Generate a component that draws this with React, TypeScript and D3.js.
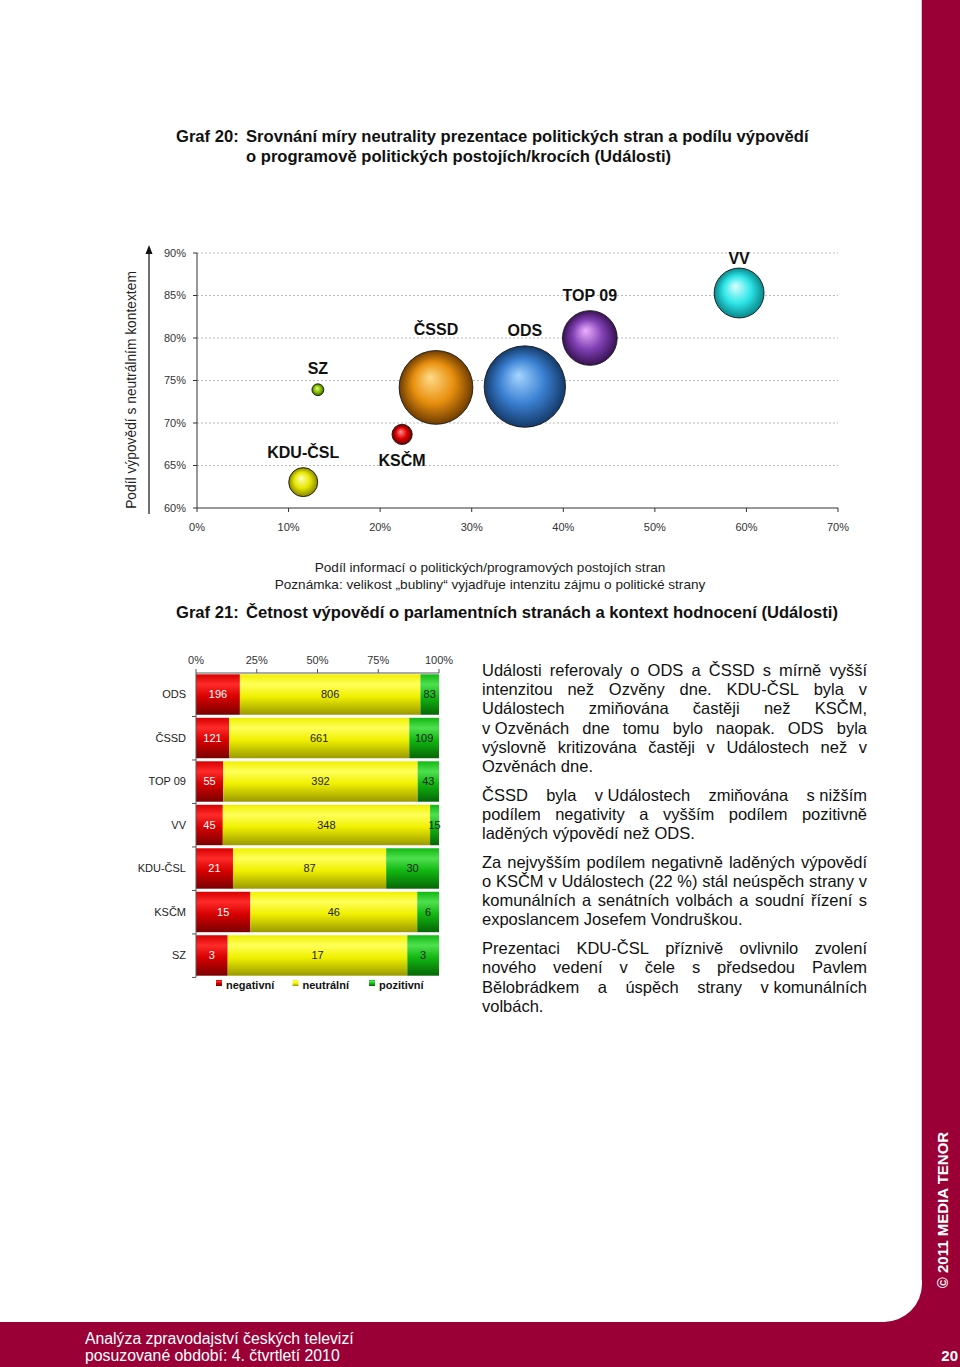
import React from 'react';
import * as d3 from 'd3';

const FONT = '"Liberation Sans", Arial, Helvetica, sans-serif';
const NARROW = '"Liberation Sans Narrow", "Arial Narrow", "Liberation Sans", sans-serif';

// Graf 21 - cetnost vypovedi (pocty)
const parties = ['ODS', 'ČSSD', 'TOP 09', 'VV', 'KDU-ČSL', 'KSČM', 'SZ'];
const negativni = [196, 121, 55, 45, 21, 15, 3];
const neutralni = [806, 661, 392, 348, 87, 46, 17];
const pozitivni = [83, 109, 43, 15, 30, 6, 3];
const seriesKeys = ['negativni', 'neutralni', 'pozitivni'];
const seriesLabels = ['negativní', 'neutrální', 'pozitivní'];

// Graf 20 - podil informaci o politickych/programovych postojich (osa x), poradi jako parties
const podilPostoju = [0.358, 0.261, 0.429, 0.592, 0.116, 0.224, 0.132];

const bubbleXTicks = [0, 0.1, 0.2, 0.3, 0.4, 0.5, 0.6, 0.7];
const bubbleYTicks = [0.6, 0.65, 0.7, 0.75, 0.8, 0.85, 0.9];
const barTicks = [0, 0.25, 0.5, 0.75, 1];

// colours: [highlight, base, shade]
const bubbleFill: Record<string, string[]> = {
  ODS: ['#a6d6ff', '#3a80d2', '#143a68'],
  'ČSSD': ['#ffdc8a', '#e8900e', '#6e3c00'],
  'TOP 09': ['#eeb0ff', '#8040b4', '#371252'],
  VV: ['#dcffff', '#2ee6e8', '#08878b'],
  'KDU-ČSL': ['#ffffb8', '#e6e600', '#858500'],
  'KSČM': ['#ff9090', '#e00000', '#650000'],
  SZ: ['#e4ff90', '#8cc400', '#3c6600'],
};
const segFill = [
  ['#ff2a2a', '#d80000', '#7a0000'],
  ['#ffff5a', '#f0f000', '#9a9a00'],
  ['#4fe04f', '#12b812', '#066606'],
];
// label offset above (or below) bubble
const labelGap: Record<string, number> = { 'ČSSD': 16, VV: 4 };
const labelBelow = ['KSČM'];

const paragraphs = [
  [
    'Události referovaly o ODS a ČSSD s mírně vyšší',
    'intenzitou než Ozvěny dne. KDU-ČSL byla v',
    'Událostech zmiňována častěji než KSČM,',
    'v\u00a0Ozvěnách dne tomu bylo naopak. ODS byla',
    'výslovně kritizována častěji v Událostech než v',
    'Ozvěnách dne.',
  ],
  [
    'ČSSD byla v\u00a0Událostech zmiňována s\u00a0nižším',
    'podílem negativity a vyšším podílem pozitivně',
    'laděných výpovědí než ODS.',
  ],
  [
    'Za nejvyšším podílem negativně laděných výpovědí',
    'o KSČM v Událostech (22 %) stál neúspěch strany v',
    'komunálních a senátních volbách a soudní řízení s',
    'exposlancem Josefem Vondruškou.',
  ],
  [
    'Prezentaci KDU-ČSL příznivě ovlivnilo zvolení',
    'nového vedení v čele s předsedou Pavlem',
    'Bělobrádkem a úspěch strany v\u00a0komunálních',
    'volbách.',
  ],
];

const TEXT_SIZE = 16.5;

let ctx: CanvasRenderingContext2D | null = null;
function measure(s: string, font: string) {
  if (!ctx) ctx = document.createElement('canvas').getContext('2d');
  ctx!.font = font;
  return ctx!.measureText(s).width;
}

function justify(line: string, x0: number, width: number, last: boolean) {
  const font = `${TEXT_SIZE}px "Liberation Sans"`;
  const words = line.split(' ');
  const ws = words.map((w) => measure(w, font));
  const sum = d3.sum(ws);
  const gap = last || words.length < 2 ? measure(' ', font) : (width - sum) / (words.length - 1);
  let cx = x0;
  return words.map((w, i) => {
    const out = { w, x: cx };
    cx += ws[i] + gap;
    return out;
  });
}

export default function App() {
  const totals = parties.map((_, i) => negativni[i] + neutralni[i] + pozitivni[i]);

  // ---- Graf 20 (bubliny)
  const x = d3.scaleLinear().domain([0, 0.7]).range([197, 838]);
  const y = d3.scaleLinear().domain([0.6, 0.9]).range([508, 253]);
  const r = d3.scaleSqrt().domain([0, d3.max(totals) as number]).range([0, 40.7]);
  const pct = d3.format('.0%');

  const bubbles = parties
    .map((p, i) => ({
      party: p,
      cx: x(podilPostoju[i]),
      cy: y(neutralni[i] / totals[i]),
      r: r(totals[i]),
    }))
    .sort((a, b) => b.r - a.r);

  // ---- Graf 21 (pruhy)
  const rows = parties.map((p, i) => ({
    party: p,
    negativni: negativni[i] / totals[i],
    neutralni: neutralni[i] / totals[i],
    pozitivni: pozitivni[i] / totals[i],
    counts: [negativni[i], neutralni[i], pozitivni[i]],
  }));
  const stacked = d3.stack<any>().keys(seriesKeys)(rows);
  const xb = d3.scaleLinear().domain([0, 1]).range([196, 439]);
  const yb = d3.scaleBand().domain(parties).range([673, 977]).paddingInner(0.07).paddingOuter(0.03);
  const legendX = d3.scalePoint().domain(seriesLabels).range([216, 369]);

  // ---- text
  const lh = 19.2;
  const paraGap = 9.5;
  let base = 676;
  const textLines: { words: { w: string; x: number }[]; y: number }[] = [];
  paragraphs.forEach((para) => {
    para.forEach((line, li) => {
      textLines.push({ words: justify(line, 482, 385, li === para.length - 1), y: base });
      base += lh;
    });
    base += paraGap;
  });

  const band = '#9a0036';

  return (
    <svg
      width={960}
      height={1367}
      style={{ position: 'absolute', left: 0, top: 0, display: 'block' }}
      fontFamily={FONT}
    >
      <defs>
        {parties.map((p, i) => (
          <radialGradient key={p} id={`bub${i}`} cx="50%" cy="50%" r="50%" fx="42%" fy="36%">
            <stop offset="0%" stopColor={bubbleFill[p][0]} />
            <stop offset="55%" stopColor={bubbleFill[p][1]} />
            <stop offset="100%" stopColor={bubbleFill[p][2]} />
          </radialGradient>
        ))}
        {segFill.map((c, i) => (
          <linearGradient key={i} id={`seg${i}`} x1="0" y1="0" x2="0" y2="1">
            <stop offset="0%" stopColor={c[1]} />
            <stop offset="25%" stopColor={c[0]} />
            <stop offset="55%" stopColor={c[1]} />
            <stop offset="100%" stopColor={c[2]} />
          </linearGradient>
        ))}
      </defs>

      {/* page frame */}
      <rect x={0} y={0} width={960} height={1367} fill={band} />
      <path d="M0,0 H922 V1284 A38,38 0 0 1 884,1322 H0 Z" fill="#fff" />
      <line x1={921.5} x2={921.5} y1={0} y2={1280} stroke="#d8c0c8" />

      {/* titles */}
      <g fontWeight="bold" fontSize={16.6} fill="#111">
        <text x={176} y={142}>Graf 20:</text>
        <text x={246} y={142}>Srovnání míry neutrality prezentace politických stran a podílu výpovědí</text>
        <text x={246} y={162}>o programově politických postojích/krocích (Události)</text>
        <text x={176} y={618}>Graf 21:</text>
        <text x={246} y={618}>Četnost výpovědí o parlamentních stranách a kontext hodnocení (Události)</text>
      </g>

      {/* Graf 20 */}
      <g>
        {bubbleYTicks.slice(1).map((t) => (
          <line key={t} x1={x(0)} x2={x(0.7)} y1={y(t)} y2={y(t)} stroke="#b8b8b8" strokeDasharray="2,2" />
        ))}
        <line x1={x(0)} x2={x(0)} y1={y(0.6)} y2={y(0.9)} stroke="#333" />
        <line x1={x(0)} x2={x(0.7)} y1={y(0.6)} y2={y(0.6)} stroke="#333" strokeWidth={1.2} />
        {bubbleYTicks.map((t) => (
          <g key={t}>
            <line x1={x(0) - 4} x2={x(0)} y1={y(t)} y2={y(t)} stroke="#333" />
            <text x={x(0) - 11} y={y(t)} dy="0.35em" textAnchor="end" fontSize={11} fill="#333">
              {pct(t)}
            </text>
          </g>
        ))}
        {bubbleXTicks.map((t) => (
          <g key={t}>
            <line x1={x(t)} x2={x(t)} y1={y(0.6)} y2={y(0.6) + 4} stroke="#333" />
            <text x={x(t)} y={y(0.6) + 19} dy="0.35em" textAnchor="middle" fontSize={11} fill="#333">
              {pct(t)}
            </text>
          </g>
        ))}
        <line x1={149} x2={149} y1={514} y2={252} stroke="#111" strokeWidth={1.2} />
        <path d="M149,245 L145.5,254 L152.5,254 Z" fill="#111" />
        <text
          transform="translate(136,390) rotate(-90)"
          textAnchor="middle"
          fontSize={13.8}
          fill="#222"
        >
          Podíl výpovědí s neutrálním kontextem
        </text>
        <text x={490} y={572} textAnchor="middle" fontSize={13.6} fill="#222">
          Podíl informací o politických/programových postojích stran
        </text>
        <text x={490} y={589} textAnchor="middle" fontSize={13.6} fill="#222">
          Poznámka: velikost „bubliny“ vyjadřuje intenzitu zájmu o politické strany
        </text>

        {bubbles.map((b) => {
          const i = parties.indexOf(b.party);
          const below = labelBelow.includes(b.party);
          const gap = labelGap[b.party] ?? 10;
          return (
            <g key={b.party}>
              <circle cx={b.cx} cy={b.cy} r={b.r} fill={`url(#bub${i})`} stroke="#1a1a1a" strokeWidth={0.9} />
              <text
                x={b.cx}
                y={below ? b.cy + b.r + 21 : b.cy - b.r - gap}
                textAnchor="middle"
                fontSize={16}
                fontWeight="bold"
                fill="#111"
              >
                {b.party}
              </text>
            </g>
          );
        })}
      </g>

      {/* Graf 21 */}
      <g>
        {stacked.map((s, si) =>
          s.map((d, di) => (
            <rect
              key={`${si}-${di}`}
              x={xb(d[0])}
              y={yb(rows[di].party)}
              width={xb(d[1]) - xb(d[0])}
              height={yb.bandwidth()}
              fill={`url(#seg${si})`}
            />
          ))
        )}
        {stacked.map((s, si) =>
          s.map((d, di) => (
            <text
              key={`t${si}-${di}`}
              x={xb((d[0] + d[1]) / 2)}
              y={(yb(rows[di].party) as number) + yb.bandwidth() / 2}
              dy="0.35em"
              textAnchor="middle"
              fontSize={11}
              fill={si === 0 ? '#fff' : '#222'}
            >
              {rows[di].counts[si]}
            </text>
          ))
        )}
        <line x1={xb(0)} x2={xb(1)} y1={673} y2={673} stroke="#555" />
        <line x1={xb(0)} x2={xb(0)} y1={673} y2={977} stroke="#555" />
        {barTicks.map((t) => (
          <g key={t}>
            <line x1={xb(t)} x2={xb(t)} y1={669} y2={673} stroke="#555" />
            <text x={xb(t)} y={660} dy="0.35em" textAnchor="middle" fontSize={11} fill="#333">
              {pct(t)}
            </text>
          </g>
        ))}
        {parties.map((p, i) => (
          <g key={p}>
            <line
              x1={xb(0) - 4}
              x2={xb(0)}
              y1={673 + (i + 1) * yb.step()}
              y2={673 + (i + 1) * yb.step()}
              stroke="#555"
            />
            <text
              x={186}
              y={(yb(p) as number) + yb.bandwidth() / 2}
              dy="0.35em"
              textAnchor="end"
              fontSize={11}
              fill="#222"
            >
              {p}
            </text>
          </g>
        ))}
        {seriesLabels.map((s, si) => (
          <g key={s}>
            <rect x={legendX(s)} y={980} width={6} height={6} fill={`url(#seg${si})`} />
            <text x={(legendX(s) as number) + 10} y={989} fontSize={11} fontWeight="bold" fill="#111">
              {s}
            </text>
          </g>
        ))}
      </g>

      {/* komentar */}
      <g fontSize={TEXT_SIZE} fill="#111">
        {textLines.map((l, li) =>
          l.words.map((w, wi) => (
            <text key={`${li}-${wi}`} x={w.x} y={l.y}>
              {w.w}
            </text>
          ))
        )}
      </g>

      {/* footer */}
      <g fill="#fff">
        <text x={85} y={1344} fontSize={15.8} fontFamily={NARROW}>
          Analýza zpravodajství českých televizí
        </text>
        <text x={85} y={1361} fontSize={15.8} fontFamily={NARROW}>
          posuzované období: 4. čtvrtletí 2010
        </text>
        <text x={958} y={1361} fontSize={15} textAnchor="end" fontWeight="bold">
          20
        </text>
        <text
          transform="translate(948,1210) rotate(-90)"
          textAnchor="middle"
          fontSize={15}
          fontWeight="bold"
        >
          © 2011 MEDIA TENOR
        </text>
      </g>
    </svg>
  );
}
